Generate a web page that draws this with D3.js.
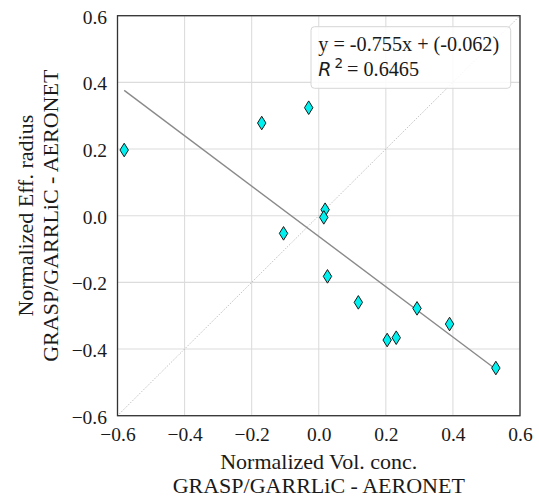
<!DOCTYPE html>
<html>
<head>
<meta charset="utf-8">
<script src="https://cdn.jsdelivr.net/npm/d3@7"></script>
<style>
  html, body { margin: 0; padding: 0; background: #fff; }
  svg { display: block; }
</style>
</head>
<body>
<script>
// values
const volConc   = [-0.580, -0.170, -0.030, 0.019, 0.015, -0.105, 0.026, 0.118, 0.204, 0.231, 0.293, 0.390, 0.528];
const effRadius = [0.197, 0.278, 0.324, 0.018, -0.005, -0.053, -0.182, -0.260, -0.373, -0.366, -0.278, -0.325, -0.457];
const fitSlope = -0.755;
const fitIntercept = -0.062;
const fitR2 = 0.6465;
const xTicks = [-0.6, -0.4, -0.2, 0.0, 0.2, 0.4, 0.6];
const yTicks = [-0.6, -0.4, -0.2, 0.0, 0.2, 0.4, 0.6];
const xLabel = ["Normalized Vol. conc.", "GRASP/GARRLiC - AERONET"];
const yLabel = ["Normalized Eff. radius", "GRASP/GARRLiC - AERONET"];

const W = 539, H = 503;
const mLeft = 117.5, mTop = 15.7, pw = 402.5, ph = 400;
const serif = "'Liberation Serif', 'Times New Roman', serif";

const svg = d3.select("body").append("svg")
  .attr("width", W).attr("height", H);

const x = d3.scaleLinear().domain([-0.6, 0.6]).range([mLeft, mLeft + pw]);
const y = d3.scaleLinear().domain([-0.6, 0.6]).range([mTop + ph, mTop]);
const fmt = v => d3.format(".1f")(Math.abs(v) < 1e-9 ? 0 : v);

// grid
const grid = svg.append("g");
grid.selectAll(".gx").data(xTicks).enter().append("line")
  .attr("x1", d => x(d)).attr("x2", d => x(d))
  .attr("y1", mTop).attr("y2", mTop + ph)
  .attr("stroke", "#dcdcdc").attr("stroke-width", 1.1);
grid.selectAll(".gy").data(yTicks).enter().append("line")
  .attr("y1", d => y(d)).attr("y2", d => y(d))
  .attr("x1", mLeft).attr("x2", mLeft + pw)
  .attr("stroke", "#dcdcdc").attr("stroke-width", 1.1);

// 1:1 line
svg.append("line")
  .attr("x1", x(-0.6)).attr("y1", y(-0.6))
  .attr("x2", x(0.6)).attr("y2", y(0.6))
  .attr("stroke", "#9a9a9a").attr("stroke-width", 0.8)
  .attr("stroke-dasharray", "1,1.6");

// regression line
const xe = d3.extent(volConc);
svg.append("line")
  .attr("x1", x(xe[0])).attr("y1", y(fitSlope * xe[0] + fitIntercept))
  .attr("x2", x(xe[1])).attr("y2", y(fitSlope * xe[1] + fitIntercept))
  .attr("stroke", "#8a8a8a").attr("stroke-width", 1.4);

// points (thin diamonds)
const pts = volConc.map((v, i) => [v, effRadius[i]]);
svg.selectAll(".pt").data(pts).enter().append("path")
  .attr("d", "M0,-6.8L4.2,0L0,6.8L-4.2,0Z")
  .attr("transform", d => `translate(${x(d[0])},${y(d[1])})`)
  .attr("fill", "#00f0f0").attr("stroke", "#1a1a1a").attr("stroke-width", 1);

// frame
svg.append("rect")
  .attr("x", mLeft).attr("y", mTop).attr("width", pw).attr("height", ph)
  .attr("fill", "none").attr("stroke", "#333").attr("stroke-width", 1.3);

// axes
const xAxis = svg.append("g").attr("transform", `translate(0,${mTop + ph})`)
  .call(d3.axisBottom(x).tickValues(xTicks).tickFormat(fmt).tickSize(0));
xAxis.select(".domain").remove();
xAxis.selectAll("text").attr("y", 25.5).attr("dy", 0)
  .attr("font-family", serif).attr("font-size", 19.5).attr("fill", "#1a1a1a");

const yAxis = svg.append("g").attr("transform", `translate(${mLeft},0)`)
  .call(d3.axisLeft(y).tickValues(yTicks).tickFormat(fmt).tickSize(0));
yAxis.select(".domain").remove();
yAxis.selectAll("text").attr("x", -10.5).attr("dy", 7.5)
  .attr("font-family", serif).attr("font-size", 19.5).attr("fill", "#1a1a1a");

// axis titles
const cx = mLeft + pw / 2, cy = mTop + ph / 2;
svg.selectAll(".xl").data(xLabel).enter().append("text")
  .attr("x", cx).attr("y", (d, i) => 468.7 + i * 24.6)
  .attr("text-anchor", "middle")
  .attr("font-family", serif).attr("font-size", 22).attr("fill", "#1a1a1a")
  .text(d => d);
svg.selectAll(".yl").data(yLabel).enter().append("text")
  .attr("transform", (d, i) => `translate(${33 + i * 24.6},${cy}) rotate(-90)`)
  .attr("text-anchor", "middle")
  .attr("font-family", serif).attr("font-size", 22).attr("fill", "#1a1a1a")
  .text(d => d);

// legend box
const lg = svg.append("g");
lg.append("rect")
  .attr("x", 311).attr("y", 26.7).attr("width", 199.7).attr("height", 61.6)
  .attr("rx", 3.5)
  .attr("fill", "#fff").attr("fill-opacity", 0.85)
  .attr("stroke", "#d6d6d6").attr("stroke-width", 1);
lg.append("text")
  .attr("x", 318.3).attr("y", 51.2)
  .attr("font-family", serif).attr("font-size", 20.2).attr("fill", "#1a1a1a")
  .text(`y = ${fitSlope.toFixed(3)}x + (${fitIntercept.toFixed(3)})`);
const t2 = lg.append("text")
  .attr("x", 318.3).attr("y", 75.5)
  .attr("font-family", serif).attr("font-size", 20.2).attr("fill", "#1a1a1a");
t2.append("tspan").attr("font-family", "'DejaVu Sans', sans-serif")
  .attr("font-style", "italic").attr("font-size", 19).text("R");
t2.append("tspan").attr("font-family", "'DejaVu Sans', sans-serif")
  .attr("font-size", 13.5).attr("dx", 3).attr("dy", -8).text("2");
t2.append("tspan").attr("dx", 4).attr("dy", 8).text(`= ${fitR2.toFixed(4)}`);
</script>
</body>
</html>
